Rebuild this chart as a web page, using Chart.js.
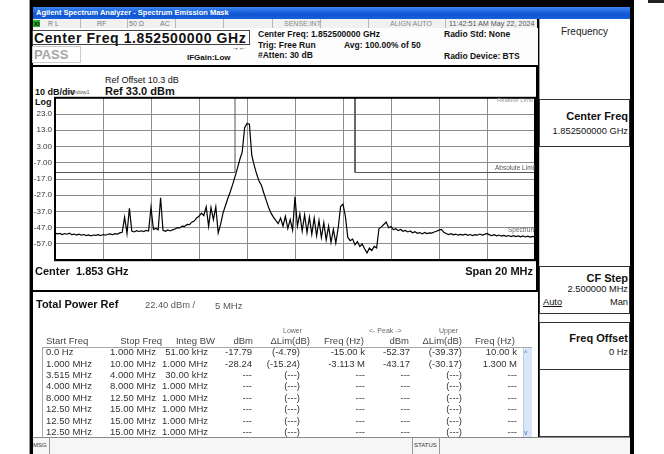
<!DOCTYPE html>
<html>
<head>
<meta charset="UTF-8">
<title>Spectrum Emission Mask</title>
<script src="https://cdn.jsdelivr.net/npm/chart.js"></script>
<style>
    body { margin: 0; width: 664px; height: 454px; position: relative; overflow: hidden; background: #fff;
           font-family: "Liberation Sans", Arial, sans-serif; color: #111; }
    .a { position: absolute; white-space: nowrap; line-height: 1; }
    .b { font-weight: bold; }
    .box { position: absolute; box-sizing: border-box; }
    .sep { position: absolute; top: 19px; width: 1px; height: 9px; background: #b8b8b8; }
    .r { text-align: right; }
    .clip { overflow: hidden; }
</style>
</head>
<body>
<!-- window frame -->
<div class="box" style="left:30px;top:0;width:604px;height:454px;background:#000"></div>
<div class="box" style="left:29px;top:0;width:1px;height:454px;background:#999"></div>
<div class="box" style="left:648px;top:0;width:16px;height:3px;background:#222"></div>
<div class="box" style="left:33px;top:7px;width:597px;height:12px;background:linear-gradient(#3d86f2,#0d55d4 60%,#1a5fd8)"></div>
<div class="a b" style="left:36px;top:9px;font-size:7.5px;color:#fff">Agilent Spectrum Analyzer - Spectrum Emission Mask</div>

<!-- status row -->
<div class="box" style="left:33px;top:19px;width:504px;height:9px;background:#f1f1f1"></div>
<div class="box" style="left:33px;top:20px;width:7px;height:7px;background:#27b327"></div>
<div class="a b" style="left:34px;top:20.5px;font-size:6px;color:#111">XI</div>
<div class="sep" style="left:80px"></div><div class="sep" style="left:127px"></div>
<div class="sep" style="left:175px"></div><div class="sep" style="left:223px"></div>
<div class="sep" style="left:272px"></div><div class="sep" style="left:320px"></div>
<div class="sep" style="left:368px"></div><div class="sep" style="left:445px"></div>
<div class="a" style="left:48px;top:20px;font-size:7px;color:#777">R L</div>
<div class="a" style="left:97px;top:20px;font-size:7px;color:#777">RF</div>
<div class="a" style="left:129px;top:20px;font-size:7px;color:#777">50 Ω</div>
<div class="a" style="left:160px;top:20px;font-size:7px;color:#777">AC</div>
<div class="a" style="left:284px;top:20px;font-size:7px;color:#888">SENSE:INT</div>
<div class="a" style="left:390px;top:20px;font-size:7px;color:#888">ALIGN AUTO</div>
<div class="a" style="left:449px;top:20px;font-size:7.2px;color:#555">11:42:51 AM May 22, 2024</div>

<!-- measurement header -->
<div class="box" style="left:33px;top:28px;width:505px;height:37px;background:#fdfdfd"></div>
<div class="box" style="left:32px;top:30px;width:218px;height:15px;border:1px solid #444;background:#fff"></div>
<div class="a b" style="left:34px;top:31px;font-size:14px;letter-spacing:0.6px">Center Freq 1.852500000 GHz</div>
<div class="box" style="left:32px;top:46px;width:49px;height:17px;border:1px solid #ccc;background:#fff"></div>
<div class="a b" style="left:34px;top:48px;font-size:13px;color:#a6a6a6">PASS</div>
<div class="a b" style="left:187px;top:54px;font-size:8px">IFGain:Low</div>
<div class="a b" style="left:232px;top:44px;font-size:7px">→←</div>
<div class="a b" style="left:258px;top:30px;font-size:8.5px">Center Freq: 1.852500000 GHz</div>
<div class="a b" style="left:258px;top:40.5px;font-size:8.5px">Trig: Free Run</div>
<div class="a b" style="left:258px;top:51px;font-size:8.5px">#Atten: 30 dB</div>
<div class="a b" style="left:344px;top:40.5px;font-size:8.5px">Avg: 100.00% of 50</div>
<div class="a b" style="left:444px;top:30px;font-size:8.5px">Radio Std: None</div>
<div class="a b" style="left:444px;top:51.5px;font-size:8.5px">Radio Device: BTS</div>

<!-- graph frame -->
<div class="box" style="left:31px;top:65px;width:507px;height:227px;border:2px solid #000;background:#fff"></div>
<div class="a" style="left:105px;top:75.5px;font-size:9px">Ref Offset 10.3 dB</div>
<div class="a b" style="left:35px;top:87.5px;font-size:9px">10 dB/div</div>
<div class="a" style="left:67px;top:89.5px;font-size:5.5px;color:#555">Window1</div>
<div class="a b" style="left:105px;top:86px;font-size:11px">Ref 33.0 dBm</div>
<div class="a b" style="left:35px;top:97.5px;font-size:9px">Log</div>
<div style="position:absolute;left:30px;top:90px;width:508px;height:178px">
    <canvas id="sem" width="508" height="178"></canvas>
</div>
<div class="a clip" style="left:497px;top:97px;width:38px;font-size:6px;color:#9a9a9a">Relative Limit</div>
<div class="a clip" style="left:495px;top:165px;width:40px;font-size:6.5px;color:#555">Absolute Limit</div>
<div class="a clip" style="left:508px;top:227px;width:27px;font-size:6.5px;color:#666">Spectrum</div>
<div class="a b" style="left:35px;top:266px;font-size:11px">Center&nbsp; 1.853 GHz</div>
<div class="a b r" style="left:433px;width:100px;top:265.5px;font-size:11px">Span 20 MHz</div>

<!-- table -->
<div class="box" style="left:33px;top:292px;width:505px;height:145px;background:#fff"></div>
<div class="a b" style="left:36px;top:298.5px;font-size:11px">Total Power Ref</div>
<div class="a" style="left:145px;top:300.5px;font-size:9.3px;color:#555">22.40 dBm /</div>
<div class="a" style="left:215px;top:300.5px;font-size:9.5px;color:#555">5 MHz</div>
<div id="tbl"></div>
<div class="box" style="left:42px;top:347px;width:490px;height:91px;border:1px solid #a8a8a8"></div>
<div class="box" style="left:523px;top:348px;width:9px;height:89px;background:#d9e5f8;border-left:1px solid #c0cde6"></div>
<div class="a" style="left:524px;top:349px;font-size:7px;color:#4a6fb5">^</div>
<div class="a" style="left:524px;top:429px;font-size:7px;color:#4a6fb5">v</div>

<!-- right softkey panel -->
<div class="box" style="left:539px;top:19px;width:91px;height:418px;background:#fff;border-left:1px solid #999"></div>
<div class="a" style="left:539px;width:91px;text-align:center;top:27px;font-size:10px;color:#222">Frequency</div>
<div class="box" style="left:539px;top:99px;width:91px;height:48px;border:1px solid #333"></div>
<div class="a b r" style="left:539px;width:89px;top:111px;font-size:11px">Center Freq</div>
<div class="a r" style="left:539px;width:89px;top:126.5px;font-size:9.3px">1.852500000 GHz</div>
<div class="box" style="left:539px;top:147px;width:91px;height:120px;border-left:1px solid #ccc"></div>
<div class="box" style="left:539px;top:266px;width:91px;height:48px;border:1px solid #333"></div>
<div class="a b r" style="left:539px;width:89px;top:272.5px;font-size:11px">CF Step</div>
<div class="a r" style="left:539px;width:89px;top:284.5px;font-size:9.3px">2.500000 MHz</div>
<div class="a" style="left:543px;top:298px;font-size:9.3px;text-decoration:underline">Auto</div>
<div class="a r" style="left:539px;width:89px;top:298px;font-size:9.3px">Man</div>
<div class="box" style="left:539px;top:322px;width:91px;height:48px;border:1px solid #333"></div>
<div class="a b r" style="left:539px;width:89px;top:332.5px;font-size:11px">Freq Offset</div>
<div class="a r" style="left:539px;width:89px;top:347.5px;font-size:9.3px">0 Hz</div>
<div class="box" style="left:539px;top:369px;width:91px;height:68px;border:1px solid #333"></div>

<!-- status bar -->
<div class="box" style="left:33px;top:437px;width:597px;height:17px;background:#f6f6f6;border-top:1px solid #888"></div>
<div class="box" style="left:49px;top:437px;width:1px;height:17px;background:#999"></div>
<div class="box" style="left:412px;top:437px;width:28px;height:17px;border-left:1px solid #999;border-right:1px solid #999"></div>
<div class="a" style="left:33px;top:442px;font-size:6px;color:#333">MSG</div>
<div class="a" style="left:414px;top:442px;font-size:6px;color:#333">STATUS</div>

<script>
    // sweep: -10 MHz .. +10 MHz around 1.8525 GHz, 0.1 MHz per point
    var traceStartMHz = -10;
    var traceStepMHz = 0.1;
    var traceDbm = [
        -50.3, -50.8, -50.5, -51.2, -50.6, -51.0, -50.4, -51.3, -50.9, -51.5,
        -51.0, -51.6, -51.2, -51.8, -51.4, -52.0, -51.5, -51.7, -51.3, -51.9,
        -51.2, -51.6, -51.0, -50.8, -51.3, -50.7, -50.9, -50.2, -49.8, -40.5,
        -50.5, -35.0, -49.0, -49.6, -48.8, -49.3, -48.9, -49.4, -48.6, -49.0,
        -34.5, -48.0, -47.4, -48.3, -28.5, -48.6, -49.2, -48.4, -49.0, -48.3,
        -47.8, -47.0, -47.1, -46.0, -46.2, -45.0, -45.1, -43.6, -42.9, -41.0,
        -40.0, -38.0, -39.5, -34.1, -46.2, -34.6, -42.0, -34.1, -50.2, -45.0,
        -38.0, -33.5, -29.0, -25.0, -20.5, -15.5, -10.5, -5.0, -0.5, 14.5,
        17.2, 16.8, -2.5, -8.6, -13.8, -18.2, -20.9, -25.6, -30.0, -34.6,
        -38.0, -40.5, -42.5, -44.5, -41.0, -46.0, -40.0, -47.5, -42.0, -48.5,
        -28.0, -46.0, -38.5, -49.0, -39.0, -50.0, -40.5, -51.0, -41.0, -52.0,
        -42.5, -53.0, -44.0, -54.5, -46.0, -56.0, -48.0, -56.5, -47.0, -34.0,
        -32.5, -40.0, -53.0, -55.0, -54.0, -57.5, -55.5, -58.5, -57.0, -60.0,
        -62.5, -59.5, -61.0, -58.5, -59.5, -47.5, -46.5, -45.0, -43.5, -47.0,
        -46.2, -48.3, -47.6, -48.8, -48.1, -49.2, -48.7, -49.6, -49.0, -50.1,
        -49.5, -50.4, -50.0, -50.8, -49.9, -50.6, -50.2, -50.3, -49.6, -49.2,
        -48.5, -48.0, -49.8, -50.6, -51.2, -50.7, -51.4, -51.0, -51.6, -51.1,
        -51.5, -51.0, -51.7, -51.2, -51.8, -51.3, -51.6, -50.9, -51.5, -51.1,
        -50.5, -51.4, -51.9, -51.3, -52.0, -51.5, -52.2, -51.7, -52.3, -51.8,
        -52.4, -51.9, -52.5, -52.0, -52.6, -52.1, -52.7, -52.2, -52.8, -52.3, -52.6
    ];

    // mask: absolute limit -13 dBm outside +-2.5 MHz
    var limitMHz = [-10, -2.5, -2.5, 2.5, 2.5, 10];
    var limitDbm = [-13, -13, 45, 45, -13, -13];

    var refLevel = 33;
    var bottomLevel = -67;
    var yTickValues = [23, 13, 3, -7, -17, -27, -37, -47, -57];
    var yTickLabels = ['23.0', '13.0', '3.00', '-7.00', '-17.0', '-27.0', '-37.0', '-47.0', '-57.0'];

    // result table
    var tblStart = ['0.0 Hz', '1.000 MHz', '3.515 MHz', '4.000 MHz', '8.000 MHz', '12.50 MHz', '12.50 MHz', '12.50 MHz'];
    var tblStop = ['1.000 MHz', '10.00 MHz', '4.000 MHz', '8.000 MHz', '12.50 MHz', '15.00 MHz', '15.00 MHz', '15.00 MHz'];
    var tblBw = ['51.00 kHz', '1.000 MHz', '30.00 kHz', '1.000 MHz', '1.000 MHz', '1.000 MHz', '1.000 MHz', '1.000 MHz'];
    var tblLowDbm = ['-17.79', '-28.24', '---', '---', '---', '---', '---', '---'];
    var tblLowLim = ['(-4.79)', '(-15.24)', '(---)', '(---)', '(---)', '(---)', '(---)', '(---)'];
    var tblLowFreq = ['-15.00 k', '-3.113 M', '---', '---', '---', '---', '---', '---'];
    var tblUpDbm = ['-52.37', '-43.17', '---', '---', '---', '---', '---', '---'];
    var tblUpLim = ['(-39.37)', '(-30.17)', '(---)', '(---)', '(---)', '(---)', '(---)', '(---)'];
    var tblUpFreq = ['10.00 k', '1.300 M', '---', '---', '---', '---', '---', '---'];

    function txt(s, x, y, size, color, right) {
        var d = document.createElement('div');
        d.className = 'a';
        d.textContent = s;
        d.style.fontSize = size + 'px';
        d.style.color = color;
        d.style.top = (y - size / 2) + 'px';
        if (right) {
            d.style.left = (x - 80) + 'px';
            d.style.width = '80px';
            d.style.textAlign = 'right';
        } else {
            d.style.left = x + 'px';
        }
        document.getElementById('tbl').appendChild(d);
    }

    txt('Lower', 283, 330, 7, '#666');
    txt('<- Peak ->', 369, 330, 7, '#666');
    txt('Upper', 439, 330, 7, '#666');
    txt('Start Freq', 46, 341, 9.5, '#444');
    txt('Stop Freq', 162, 341, 9.5, '#444', true);
    txt('Integ BW', 215, 341, 9.5, '#444', true);
    txt('dBm', 253, 341, 9.5, '#444', true);
    txt('\u0394Lim(dB)', 310, 341, 9.5, '#444', true);
    txt('Freq (Hz)', 364, 341, 9.5, '#444', true);
    txt('dBm', 409, 341, 9.5, '#444', true);
    txt('\u0394Lim(dB)', 462, 341, 9.5, '#444', true);
    txt('Freq (Hz)', 515, 341, 9.5, '#444', true);
    for (var i = 0; i < tblStart.length; i++) {
        var y = 352 + i * 11.4;
        txt(tblStart[i], 46, y, 9.5, '#333');
        txt(tblStop[i], 110, y, 9.5, '#333');
        txt(tblBw[i], 208, y, 9.5, '#333', true);
        txt(tblLowDbm[i], 252, y, 9.5, '#333', true);
        txt(tblLowLim[i], 300, y, 9.5, '#333', true);
        txt(tblLowFreq[i], 365, y, 9.5, '#333', true);
        txt(tblUpDbm[i], 410, y, 9.5, '#333', true);
        txt(tblUpLim[i], 462, y, 9.5, '#333', true);
        txt(tblUpFreq[i], 517, y, 9.5, '#333', true);
    }

    var tracePts = [];
    for (var k = 0; k < traceDbm.length; k++) {
        tracePts.push({ x: Math.round((traceStartMHz + k * traceStepMHz) * 10) / 10, y: traceDbm[k] });
    }
    var limitPts = [];
    for (var j = 0; j < limitMHz.length; j++) {
        limitPts.push({ x: limitMHz[j], y: limitDbm[j] });
    }

    // black box round the whole plot area
    var plotFrame = {
        id: 'plotFrame',
        afterDraw: function (chart) {
            var a = chart.chartArea, ctx = chart.ctx;
            ctx.save();
            ctx.strokeStyle = '#000';
            ctx.lineWidth = 2;
            ctx.strokeRect(a.left, a.top, a.right - a.left, a.bottom - a.top);
            ctx.restore();
        }
    };

    var gridColor = '#8c8c8c';
    new Chart(document.getElementById('sem'), {
        type: 'line',
        data: {
            datasets: [
                { label: 'Spectrum', data: tracePts, borderColor: '#000', borderWidth: 1.2, pointRadius: 0, tension: 0 },
                { label: 'Absolute Limit', data: limitPts, borderColor: '#555', borderWidth: 1, pointRadius: 0, tension: 0 }
            ]
        },
        options: {
            responsive: false,
            animation: false,
            layout: { padding: { left: 0, right: 3, top: 7, bottom: 5 } },
            plugins: { legend: { display: false }, tooltip: { enabled: false } },
            scales: {
                x: {
                    type: 'linear', min: -10, max: 10,
                    ticks: { display: false, stepSize: 2 },
                    grid: { color: gridColor, drawTicks: false },
                    border: { color: '#000', width: 2 },
                    afterFit: function (s) { s.height = 0; }
                },
                y: {
                    min: bottomLevel, max: refLevel,
                    ticks: {
                        stepSize: 10, padding: 3, color: '#333',
                        font: { family: 'Liberation Sans', size: 8 },
                        callback: function (v) {
                            var n = yTickValues.indexOf(v);
                            return n < 0 ? '' : yTickLabels[n];
                        }
                    },
                    grid: { color: gridColor, drawTicks: false },
                    border: { color: '#000', width: 2 },
                    afterFit: function (s) { s.width = 25; }
                }
            }
        },
        plugins: [plotFrame]
    });
</script>
</body>
</html>
